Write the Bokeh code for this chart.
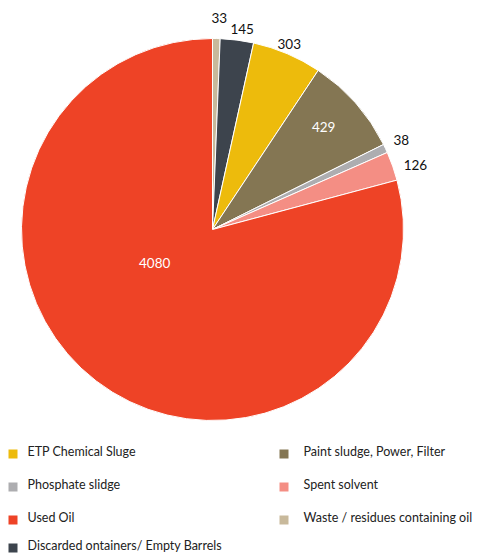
import math
from bokeh.plotting import figure
from bokeh.models import Range1d, ColumnDataSource
from bokeh.core.properties import value
from bokeh.embed import file_html
from bokeh.resources import INLINE

# Data (clockwise from 12 o'clock)
categories = ["Waste / residues containing oil", "Discarded ontainers/ Empty Barrels",
              "ETP Chemical Sluge", "Paint sludge, Power, Filter", "Phosphate slidge",
              "Spent solvent", "Used Oil"]
values = [33, 145, 303, 429, 38, 126, 4080]
colors = ["#C8B99B", "#3D444D", "#EDBB0C", "#847653", "#ADADB0", "#F48E84", "#EE4326"]
label_inside = [False, False, False, True, False, False, True]

legend_order = ["ETP Chemical Sluge", "Paint sludge, Power, Filter", "Phosphate slidge",
                "Spent solvent", "Used Oil", "Waste / residues containing oil",
                "Discarded ontainers/ Empty Barrels"]

W, H = 478, 554
p = figure(width=W, height=H, output_backend="svg", toolbar_location=None,
           x_range=Range1d(0, W), y_range=Range1d(0, H), min_border=0)
p.axis.visible = False
p.grid.visible = False
p.outline_line_color = None
p.background_fill_color = "white"

cx, cy, R = 212, H - 229, 191
total = sum(values)
starts, ends, lx, ly, ltxt, lcol = [], [], [], [], [], []
lab_r = [R + 21, R + 12, R + 10, 0.79 * R, R + 18, R + 22, 0.35 * R]
lab_shift = [0.012, 0.018, -0.01, -0.02, -0.005, 0.03, 0.39]
cum = 0.0
for v, inside, r, sh in zip(values, label_inside, lab_r, lab_shift):
    a0 = cum / total * 2 * math.pi
    cum += v
    a1 = cum / total * 2 * math.pi
    starts.append(math.pi / 2 - a1)
    ends.append(math.pi / 2 - a0)
    mid = (a0 + a1) / 2 + sh
    col = "white" if inside else "#111111"
    lx.append(cx + r * math.sin(mid))
    ly.append(cy + r * math.cos(mid))
    ltxt.append(str(v))
    lcol.append(col)

src = ColumnDataSource(dict(start=starts, end=ends, color=colors))
p.wedge(x=cx, y=cy, radius=R, start_angle="start", end_angle="end", source=src,
        fill_color="color", line_color="white", line_width=1)

p.text(x=lx, y=ly, text=ltxt, text_color=lcol, text_align="center",
       text_baseline="middle", text_font=value("Lato"), text_font_size="13.5px")

# Legend
lcolor = {c: col for c, col in zip(categories, colors)}
leg_x, leg_y, leg_c, leg_t, txt_x = [], [], [], [], []
row_y = [H - 451, H - 484, H - 517, H - 545]
for i, name in enumerate(legend_order):
    row, colm = divmod(i, 2)
    x0 = 8 if colm == 0 else 279
    leg_x.append(x0)
    txt_x.append(x0 + (19 if colm == 0 else 24))
    leg_y.append(row_y[row])
    leg_c.append(lcolor[name])
    leg_t.append(name)
p.rect(x=[x + 4.5 for x in leg_x], y=[y - 2.5 for y in leg_y], width=9, height=9,
       fill_color=leg_c, line_color=None)
p.text(x=txt_x, y=leg_y, text=leg_t, text_color="#222222",
       text_align="left", text_baseline="middle", text_font=value("Lato"),
       text_font_size="12.5px")

open("out.html", "w").write(file_html(p, INLINE))
